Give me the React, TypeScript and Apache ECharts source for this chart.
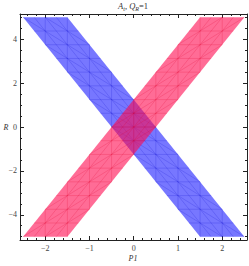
import React, { useEffect, useRef } from "react";
import * as echarts from "echarts";

// Axis ranges and ticks
const xRange = [-2.57, 2.56];
const yRange = [-5.15, 5.15];
const xMajorTicks = [-2, -1, 0, 1, 2];
const xMinorTicks = [-2.4, -2.2, -1.8, -1.6, -1.4, -1.2, -0.8, -0.6, -0.4, -0.2, 0.2, 0.4, 0.6, 0.8, 1.2, 1.4, 1.6, 1.8, 2.2, 2.4];
const yMajorTicks = [-4, -2, 0, 2, 4];
const yMinorTicks = [-5, -4.5, -3.5, -3, -2.5, -1.5, -1, -0.5, 0.5, 1, 1.5, 2.5, 3, 3.5, 4.5, 5];

// Region corners: top-left, top-right, bottom-right, bottom-left
const blueBand = [-2.5, 5, -1.5, 5, 2.5, -5, 1.5, -5];
const redBand = [1.5, 5, 2.5, 5, -1.5, -5, -2.5, -5];

const SERIF = "'Liberation Serif', 'DejaVu Serif', serif";

function fmt(v: number) {
  return String(v).replace("-", "\u2212");
}

function bandRender(fill: string, mesh: string) {
  return (params: any, api: any) => {
    const v = (i: number) => api.value(i) as number;
    const TL = [v(0), v(1)], TR = [v(2), v(3)], BR = [v(4), v(5)], BL = [v(6), v(7)];
    const P = (u: number, w: number) => {
      const tx = (1 - u) * TL[0] + u * TR[0];
      const ty = (1 - u) * TL[1] + u * TR[1];
      const bx = (1 - u) * BL[0] + u * BR[0];
      const by = (1 - u) * BL[1] + u * BR[1];
      return api.coord([(1 - w) * tx + w * bx, (1 - w) * ty + w * by]);
    };
    const children: any[] = [];
    children.push({
      type: "polygon",
      shape: { points: [api.coord(TL), api.coord(TR), api.coord(BR), api.coord(BL)] },
      style: { fill, stroke: "none" },
    });
    const NU = 4, NV = 16;
    const line = (a: number[], b: number[]) => ({
      type: "line",
      shape: { x1: a[0], y1: a[1], x2: b[0], y2: b[1] },
      style: { stroke: mesh, lineWidth: 0.5 },
      silent: true,
    });
    for (let k = 1; k < NV; k++) children.push(line(P(0, k / NV), P(1, k / NV)));
    for (let i = 1; i < NU; i++) children.push(line(P(i / NU, 0), P(i / NU, 1)));
    for (let i = 0; i < NU; i++) {
      for (let k = 0; k < NV; k++) {
        if ((i + k) % 2 === 0) children.push(line(P(i / NU, k / NV), P((i + 1) / NU, (k + 1) / NV)));
        else children.push(line(P((i + 1) / NU, k / NV), P(i / NU, (k + 1) / NV)));
      }
    }
    return { type: "group", children };
  };
}

function xAxisCfg(position: "top" | "bottom", ticks: number[], len: number, withLine: boolean, labels: boolean) {
  return {
    type: "value",
    position,
    min: xRange[0],
    max: xRange[1],
    splitLine: { show: false },
    axisLine: { show: withLine, onZero: false, lineStyle: { color: "#222", width: 1 } },
    axisTick: { show: true, inside: true, length: len, customValues: ticks, lineStyle: { color: "#222", width: 1 } },
    axisLabel: labels
      ? { show: true, customValues: ticks, formatter: fmt, fontSize: 8, fontFamily: SERIF, color: "#444", margin: 4 }
      : { show: false },
  };
}

function yAxisCfg(position: "left" | "right", ticks: number[], len: number, withLine: boolean, labels: boolean) {
  return {
    type: "value",
    position,
    min: yRange[0],
    max: yRange[1],
    splitLine: { show: false },
    axisLine: { show: withLine, onZero: false, lineStyle: { color: "#222", width: 1 } },
    axisTick: { show: true, inside: true, length: len, customValues: ticks, lineStyle: { color: "#222", width: 1 } },
    axisLabel: labels
      ? { show: true, customValues: ticks, formatter: fmt, fontSize: 8, fontFamily: SERIF, color: "#444", margin: 3 }
      : { show: false },
  };
}

export default function App() {
  const ref = useRef<HTMLDivElement>(null);
  useEffect(() => {
    if (!ref.current) return;
    const chart = echarts.init(ref.current, undefined, { renderer: "svg" });
    chart.setOption({
      animation: false,
      backgroundColor: "#fff",
      grid: { left: 20, right: 2, top: 14, bottom: 26, containLabel: false },
      xAxis: [
        xAxisCfg("bottom", xMajorTicks, 4, true, true),
        xAxisCfg("bottom", xMinorTicks, 2, false, false),
        xAxisCfg("top", xMajorTicks, 4, true, false),
        xAxisCfg("top", xMinorTicks, 2, false, false),
      ],
      yAxis: [
        yAxisCfg("left", yMajorTicks, 4, true, true),
        yAxisCfg("left", yMinorTicks, 2, false, false),
        yAxisCfg("right", yMajorTicks, 4, true, false),
        yAxisCfg("right", yMinorTicks, 2, false, false),
      ],
      series: [
        {
          type: "custom",
          name: "blue",
          xAxisIndex: 0,
          yAxisIndex: 0,
          renderItem: bandRender("rgba(35,35,255,0.62)", "rgba(20,20,210,0.4)"),
          encode: { x: [0, 2, 4, 6], y: [1, 3, 5, 7] },
          data: [blueBand],
          z: 1,
        },
        {
          type: "custom",
          name: "red",
          xAxisIndex: 0,
          yAxisIndex: 0,
          renderItem: bandRender("rgba(255,10,80,0.6)", "rgba(225,0,45,0.4)"),
          encode: { x: [0, 2, 4, 6], y: [1, 3, 5, 7] },
          data: [redBand],
          z: 2,
        },
      ],
      graphic: [
        {
          type: "text",
          x: 133,
          y: 6,
          style: {
            text: "{i|A}{s|t}{n|, }{i|Q}{s|R}{n|=1}",
            textAlign: "center",
            textVerticalAlign: "middle",
            rich: {
              i: { fontFamily: SERIF, fontStyle: "italic", fontSize: 8.5, fill: "#333" },
              s: { fontFamily: SERIF, fontStyle: "italic", fontSize: 6, fill: "#333", padding: [5, 0, 0, 0] },
              n: { fontFamily: SERIF, fontSize: 8.5, fill: "#333" },
            },
          },
        },
        {
          type: "text",
          x: 6,
          y: 127,
          style: {
            text: "R",
            textAlign: "center",
            textVerticalAlign: "middle",
            fontFamily: SERIF,
            fontStyle: "italic",
            fontSize: 8,
            fill: "#333",
          },
        },
        {
          type: "text",
          x: 133,
          y: 258,
          style: {
            text: "P1",
            textAlign: "center",
            textVerticalAlign: "middle",
            fontFamily: SERIF,
            fontStyle: "italic",
            fontSize: 8,
            fill: "#333",
          },
        },
      ],
    });
    return () => chart.dispose();
  }, []);
  return <div ref={ref} style={{ position: "absolute", left: 0, top: 0, width: 249, height: 266 }} />;
}
